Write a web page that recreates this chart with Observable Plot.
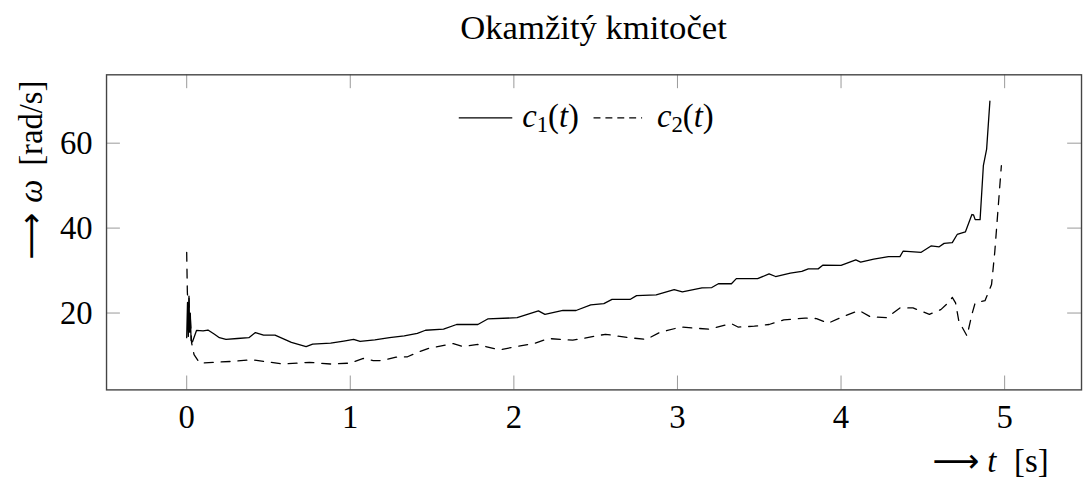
<!DOCTYPE html>
<html><head><meta charset="utf-8">
<script src="https://cdn.jsdelivr.net/npm/d3@7"></script>
<script src="https://cdn.jsdelivr.net/npm/@observablehq/plot@0.6"></script>
<style>
html,body{margin:0;padding:0;background:#fff;overflow:hidden;width:1085px;height:486px;}
#chart{position:relative;width:1085px;height:486px;overflow:hidden;}
</style></head><body><div id="chart"></div>
<script>
const title = "Okamžitý kmitočet";
const xTicks = [0, 1, 2, 3, 4, 5];
const yTicks = [20, 40, 60];

const t1 = [0.000,0.005,0.010,0.014,0.018,0.022,0.027,0.035,0.060,0.100,0.130,0.170,0.200,0.240,0.310,0.380,0.420,0.470,0.540,0.640,0.730,0.770,0.880,0.960,1.020,1.060,1.150,1.240,1.330,1.410,1.460,1.570,1.650,1.780,1.840,2.020,2.150,2.190,2.300,2.380,2.470,2.550,2.600,2.710,2.750,2.870,2.980,3.030,3.150,3.210,3.250,3.330,3.360,3.490,3.560,3.600,3.690,3.760,3.800,3.860,3.890,4.000,4.090,4.120,4.200,4.290,4.360,4.380,4.490,4.550,4.600,4.630,4.680,4.710,4.760,4.800,4.810,4.820,4.850,4.870,4.890,4.910];
const c1 = [14.2,22.5,14.5,24.0,15.5,20.0,13.5,13.2,15.9,15.8,16.0,15.0,14.2,13.8,14.0,14.2,15.4,14.8,14.8,13.1,12.1,12.7,12.9,13.4,13.8,13.3,13.7,14.2,14.6,15.2,15.95,16.2,17.3,17.3,18.6,18.9,20.5,19.7,20.6,20.6,21.9,22.2,23.2,23.2,24.1,24.3,25.5,25.0,25.9,26.0,26.9,26.9,28.1,28.1,29.2,28.6,29.4,29.8,30.4,30.4,31.3,31.2,32.5,32.0,32.7,33.3,33.3,34.6,34.3,35.8,35.6,36.4,36.6,38.5,39.1,43.2,43.1,42.0,42.0,54.7,58.6,69.9];

const t2 = [0.000,0.004,0.008,0.011,0.014,0.018,0.022,0.030,0.045,0.080,0.270,0.400,0.470,0.590,0.750,0.880,1.000,1.080,1.140,1.190,1.280,1.350,1.410,1.480,1.630,1.690,1.780,1.880,1.920,2.130,2.210,2.360,2.560,2.700,2.810,2.890,3.020,3.190,3.330,3.370,3.470,3.560,3.650,3.780,3.850,3.920,4.020,4.110,4.180,4.280,4.360,4.440,4.540,4.610,4.660,4.680,4.700,4.720,4.770,4.800,4.820,4.880,4.920,4.940,4.960,4.980];
const c2 = [34.3,25.0,22.0,19.0,23.5,17.5,19.0,13.0,10.2,8.2,8.6,9.0,8.6,8.0,8.4,8.0,8.2,9.3,8.8,8.8,9.6,9.7,10.7,11.7,12.8,12.1,12.6,11.6,11.4,12.9,14.0,13.6,15.0,14.2,13.8,15.4,16.7,16.2,17.5,16.7,16.9,17.3,18.4,18.8,18.7,17.6,19.3,20.6,19.1,18.9,21.2,21.2,19.7,20.8,22.6,23.7,22.4,18.1,14.6,19.7,22.4,22.9,26.7,34.5,44.6,54.7];

const data1 = t1.map((t, i) => ({t, w: c1[i]}));
const data2 = t2.map((t, i) => ({t, w: c2[i]}));

const W = 1095, H = 486;
const mL = 107, mR = W - 1091, mT = 75, mB = H - 393;
const innerH = H - mT - mB, innerW = W - mL - mR;
const tk = 14;
const FONT = "'Liberation Serif', 'Times New Roman', serif";
const ARROWFONT = "'DejaVu Sans', sans-serif";

const svg = Plot.plot({
  width: W, height: H,
  marginLeft: mL, marginRight: mR, marginTop: mT, marginBottom: mB,
  x: {domain: [-0.49, 5.47]},
  y: {domain: [1.9, 76.1]},
  style: {fontFamily: FONT, fontSize: "33px", background: "white", color: "black", overflow: "visible"},
  marks: [
    Plot.tickX(xTicks, {x: d => d, insetTop: innerH - tk, stroke: "#999", strokeWidth: 1}),
    Plot.tickX(xTicks, {x: d => d, insetBottom: innerH - tk, stroke: "#999", strokeWidth: 1}),
    Plot.tickY(yTicks, {y: d => d, insetRight: innerW - tk, stroke: "#999", strokeWidth: 1}),
    Plot.tickY(yTicks, {y: d => d, insetLeft: innerW - tk, stroke: "#999", strokeWidth: 1}),
    Plot.axisX(xTicks, {tickSize: 0, tickPadding: 15, label: null, fontSize: 33, tickFormat: d => String(d)}),
    Plot.axisY(yTicks, {tickSize: 0, tickPadding: 14, label: null, fontSize: 33, tickFormat: d => String(d)}),
    Plot.line(data1, {x: "t", y: "w", stroke: "black", strokeWidth: 1.3}),
    Plot.line(data2, {x: "t", y: "w", stroke: "black", strokeWidth: 1.3, strokeDasharray: "9,8"}),
    Plot.frame({stroke: "#444", strokeWidth: 1.4})
  ]
});
document.getElementById("chart").appendChild(svg);

const s = d3.select(svg);
// Title
s.append("text").attr("x", (mL + W - mR) / 2).attr("y", 39)
  .attr("text-anchor", "middle").attr("font-family", FONT).attr("font-size", 35)
  .attr("fill", "black").text(title);

// Y label (rotated, reads bottom to top, starts at the arrow tail)
const yl = s.append("text").attr("transform", "translate(42,262) rotate(-90)")
  .attr("text-anchor", "start").attr("font-family", FONT).attr("font-size", 33).attr("fill", "black");
yl.append("tspan").attr("font-family", ARROWFONT).attr("font-size", 33).text("⟶");
yl.append("tspan").attr("dx", 10).attr("font-style", "italic").text("ω");
yl.append("tspan").attr("dx", 14).text("[rad/s]");

// X label
const xl = s.append("text").attr("x", 941).attr("y", 476).attr("text-anchor", "start")
  .attr("font-family", FONT).attr("font-size", 33).attr("fill", "black");
xl.append("tspan").attr("font-family", ARROWFONT).attr("font-size", 33).text("⟶");
xl.append("tspan").attr("dx", 8).attr("font-style", "italic").text("t");
xl.append("tspan").attr("dx", 18).text("[s]");

// Legend
const lg = s.append("g");
function entry(x0, x1, tx, sub, dash) {
  lg.append("line").attr("x1", x0).attr("x2", x1).attr("y1", 119).attr("y2", 119)
    .attr("stroke", "black").attr("stroke-width", 1.3).attr("stroke-dasharray", dash);
  const t = lg.append("text").attr("x", tx).attr("y", 128).attr("text-anchor", "start")
    .attr("font-family", FONT).attr("font-size", 33).attr("fill", "black");
  t.append("tspan").attr("font-style", "italic").text("c");
  t.append("tspan").attr("font-size", 23).attr("dy", 5).text(sub);
  t.append("tspan").attr("dy", -5).text("(");
  t.append("tspan").attr("font-style", "italic").text("t");
  t.append("tspan").text(")");
}
entry(463, 517, 527, "1", null);
entry(599, 648, 663, "2", "7,5");
</script></body></html>
